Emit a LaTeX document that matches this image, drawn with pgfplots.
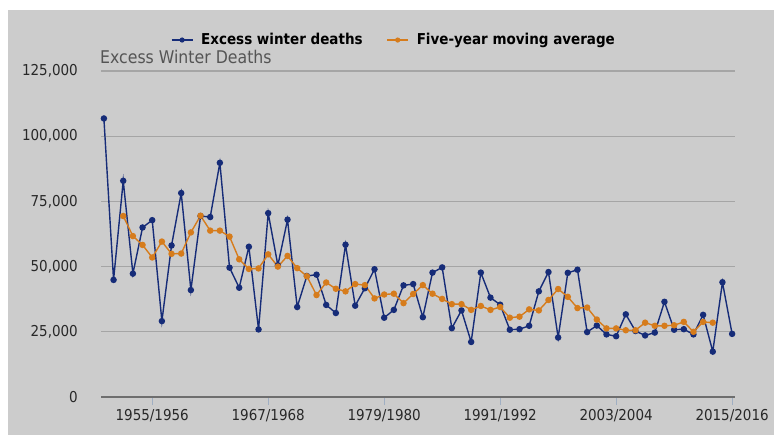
\documentclass[border=0pt]{standalone}
\usepackage{pgfplots}
\pgfplotsset{compat=1.18}
\usepackage{fontspec}
\setmainfont{DejaVu Sans Condensed}[BoldFont={DejaVu Sans Condensed Bold}]
\definecolor{bg}{RGB}{204,204,204}
\definecolor{gridc}{RGB}{165,165,165}
\definecolor{axc}{RGB}{110,110,110}
\definecolor{tickc}{RGB}{160,175,195}
\definecolor{blueS}{RGB}{22,44,120}
\definecolor{orangeS}{RGB}{214,124,28}
\definecolor{txt}{RGB}{40,40,40}
\definecolor{titc}{RGB}{85,85,85}
\begin{document}
\begin{tikzpicture}
\useasboundingbox (0,0) rectangle (774bp,435bp);
\fill[white] (0,0) rectangle (774bp,435bp);
\fill[bg] (8bp,0) rectangle (774bp,425bp);
\begin{axis}[
  at={(101bp,38bp)}, anchor=south west,
  width=634bp, height=326bp, scale only axis,
  xmin=-0.3, xmax=65.3, ymin=0, ymax=125000,
  axis x line*=bottom, axis y line*=left,
  y axis line style={draw=none},
  x axis line style={axc, line width=2.5bp},
  xtick={5,17,29,41,53,65},
  xticklabels={1955/1956,1967/1968,1979/1980,1991/1992,2003/2004,2015/2016},
  ytick={0,25000,50000,75000,100000,125000},
  yticklabels={0,{25,000},{50,000},{75,000},{100,000},{125,000}},
  scaled y ticks=false,
  ymajorgrids, grid style={gridc, line width=1.2bp},
  tick align=outside,
  major tick length=8bp,
  xtick style={tickc, line width=0.8bp},
  ytick style={draw=none},
  ticklabel style={font=\fontsize{15bp}{18bp}\selectfont, text=txt},
  yticklabel style={inner sep=0pt, xshift=-15bp},
  xticklabel style={inner sep=0pt, yshift=-4bp},
  title={Excess Winter Deaths},
  title style={at={(0,1)}, anchor=base west, xshift=-1bp, yshift=2bp, inner sep=0pt,
    font=\fontsize{17.5bp}{20bp}\selectfont, text=titc},
  legend columns=2,
  legend style={at={(0.1105,1.095)}, anchor=west, draw=none, fill=none,
    inner sep=0pt, outer sep=0pt,
    font=\fontsize{15bp}{18bp}\selectfont\bfseries, text=black,
    /tikz/column 1/.style={column sep=6bp},
    /tikz/column 2/.style={column sep=22bp},
    /tikz/column 3/.style={column sep=6bp}},
  legend image code/.code={
    \draw[#1,line width=1.1bp,mark size=2bp,mark repeat=2,mark phase=2] plot coordinates {(0bp,0bp) (10.5bp,0bp) (21bp,0bp)};},
  clip=false,
]
\addplot[blueS, line width=1.4bp, mark=*, mark size=2.5bp, mark options={solid, fill=blueS, draw=blueS}] coordinates {
(0,106800) (1,44900) (2,82900) (3,47300) (4,65000) (5,67800) (6,29100) (7,58100)
(8,78200) (9,41000) (10,69400) (11,69000) (12,89800) (13,49600) (14,41900) (15,57600)
(16,25900) (17,70500) (18,50500) (19,68000) (20,34500) (21,46400) (22,46900) (23,35300)
(24,32200) (25,58400) (26,35000) (27,41700) (28,49000) (29,30400) (30,33400) (31,42800)
(32,43300) (33,30600) (34,47700) (35,49700) (36,26400) (37,33200) (38,21100) (39,47700)
(40,38100) (41,35400) (42,25800) (43,26000) (44,27300) (45,40500) (46,47900) (47,22800)
(48,47600) (49,48800) (50,24900) (51,27400) (52,24000) (53,23300) (54,31700) (55,25300)
(56,23600) (57,24700) (58,36500) (59,25800) (60,26000) (61,24000) (62,31500) (63,17400)
(64,44000) (65,24200)};
\addlegendentry{Excess winter deaths}
\addplot[orangeS, line width=1.4bp, mark=*, mark size=2.5bp, mark options={solid, fill=orangeS, draw=orangeS}] coordinates {
(2,69400) (3,61700) (4,58300) (5,53500) (6,59600) (7,54900) (8,55000) (9,63100)
(10,69500) (11,63800) (12,63800) (13,61500) (14,52800) (15,49100) (16,49300) (17,54700)
(18,50000) (19,54100) (20,49400) (21,46300) (22,39100) (23,43900) (24,41500) (25,40500)
(26,43300) (27,42900) (28,37800) (29,39300) (30,39600) (31,36000) (32,39500) (33,42900)
(34,39600) (35,37600) (36,35600) (37,35600) (38,33400) (39,34900) (40,33400) (41,34500)
(42,30400) (43,30800) (44,33600) (45,33200) (46,37200) (47,41400) (48,38400) (49,34100)
(50,34300) (51,29700) (52,26300) (53,26300) (54,25600) (55,25600) (56,28500) (57,27300)
(58,27300) (59,27500) (60,28800) (61,25000) (62,28800) (63,28500)};
\addlegendentry{Five-year moving average}
\end{axis}
\end{tikzpicture}
\end{document}
